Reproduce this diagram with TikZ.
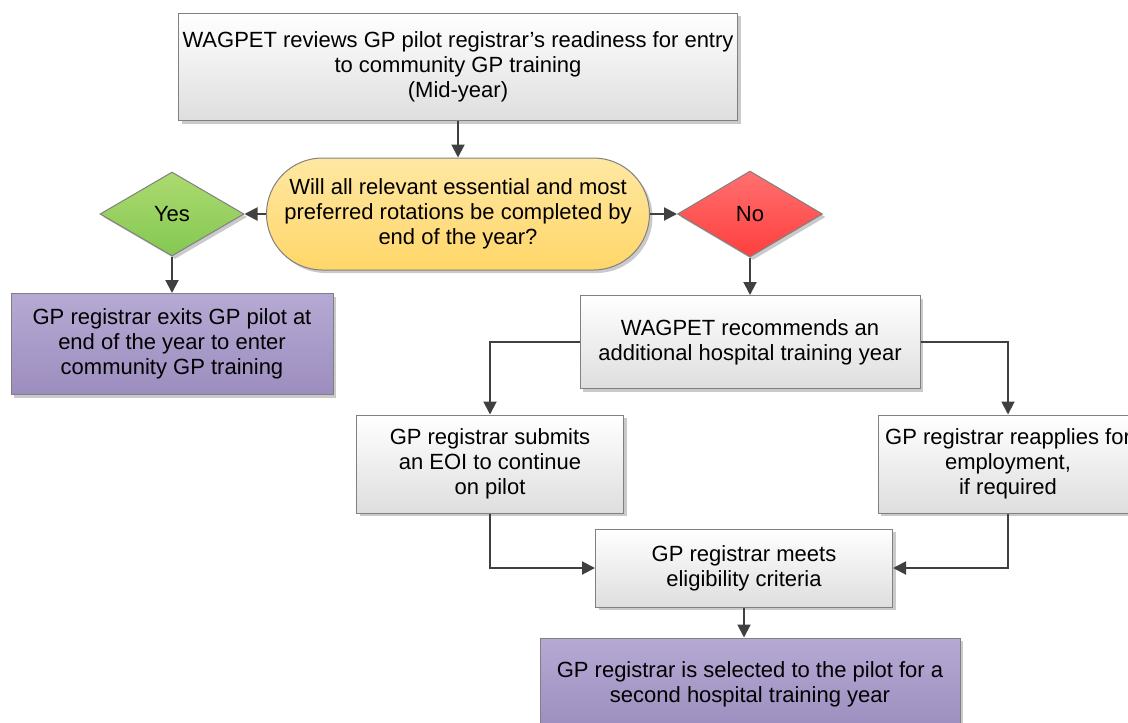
\documentclass[tikz,border=0pt]{standalone}
\usepackage{fontspec}
\setmainfont{Liberation Sans}
\usetikzlibrary{shapes.geometric, arrows.meta, shadows, positioning}
\definecolor{boxline}{RGB}{128,128,128}
\definecolor{arrowgray}{RGB}{64,64,64}
\definecolor{graybottom}{RGB}{222,222,222}
\definecolor{yellowtop}{RGB}{255,232,163}
\definecolor{yellowbottom}{RGB}{255,214,104}
\definecolor{greentop}{RGB}{172,218,112}
\definecolor{greenbottom}{RGB}{132,200,82}
\definecolor{redtop}{RGB}{255,112,112}
\definecolor{redbottom}{RGB}{255,62,62}
\definecolor{purpletop}{RGB}{182,170,212}
\definecolor{purplebottom}{RGB}{156,141,190}

\tikzset{
	shade/.style={drop shadow={shadow xshift=1.5pt, shadow yshift=-1.5pt, opacity=0.35, fill=black!60}},
	flowbox/.style={draw=boxline, line width=0.5pt, top color=white, bottom color=graybottom, align=center, inner sep=2pt, shade},
	pickbox/.style={flowbox, top color=purpletop, bottom color=purplebottom},
	question/.style={flowbox, top color=yellowtop, bottom color=yellowbottom, rounded corners=28pt},
	answer/.style={draw=boxline, line width=0.5pt, diamond, inner sep=0pt, align=center, shade},
	flow/.style={draw=arrowgray, line width=1pt, -{Triangle[length=6.5pt, width=6.5pt]}}
}

\begin{document}
\begin{tikzpicture}[x=0.5pt, y=-0.5pt, every node/.style={font=\fontsize{11}{12.6}\selectfont}]
	\useasboundingbox (0,0) rectangle (1128,722);

	\node[flowbox, minimum width=278.5pt, minimum height=53.5pt] (review) at (458,67) {WAGPET reviews GP pilot registrar’s readiness for entry\\to community GP training\\(Mid-year)};
	\node[question, minimum width=191.5pt, minimum height=56pt] (rotations) at (458,214) {Will all relevant essential and most\\preferred rotations be completed by\\end of the year?};
	\node[answer, top color=greentop, bottom color=greenbottom, minimum width=72pt, minimum height=42pt] (yes) at (172,214) {Yes};
	\node[answer, top color=redtop, bottom color=redbottom, minimum width=72.5pt, minimum height=43pt] (no) at (750,214) {No};

	\node[pickbox, minimum width=161pt, minimum height=50.5pt] (exits) at (172,344) {GP registrar exits GP pilot at\\end of the year to enter\\community GP training};
	\node[flowbox, minimum width=170pt, minimum height=46.5pt] (extra) at (750,342) {WAGPET recommends an\\additional hospital training year};
	\node[flowbox, minimum width=133.5pt, minimum height=49pt] (eoi) at (490,464) {GP registrar submits\\an EOI to continue\\on pilot};
	\node[flowbox, minimum width=130pt, minimum height=49pt] (reapply) at (1008,464) {GP registrar reapplies for\\employment,\\if required};
	\node[flowbox, minimum width=148.5pt, minimum height=39pt] (eligible) at (744,568) {GP registrar meets\\eligibility criteria};
	\node[pickbox, minimum width=210pt, minimum height=46pt] (selected) at (750,684) {GP registrar is selected to the pilot for a\\second hospital training year};

	\draw[flow] (review.south) -- (rotations.north);
	\draw[flow] (rotations.west) -- (yes.east);
	\draw[flow] (rotations.east) -- (no.west);
	\draw[flow] (yes.south) -- (exits.north);
	\draw[flow] (no.south) -- (extra.north);
	\draw[flow] (extra.west) -| (eoi.north);
	\draw[flow] (extra.east) -| (reapply.north);
	\draw[flow] (eoi.south) |- (eligible.west);
	\draw[flow] (reapply.south) |- (eligible.east);
	\draw[flow] (eligible.south) -- (eligible.south |- selected.north);
\end{tikzpicture}
\end{document}
